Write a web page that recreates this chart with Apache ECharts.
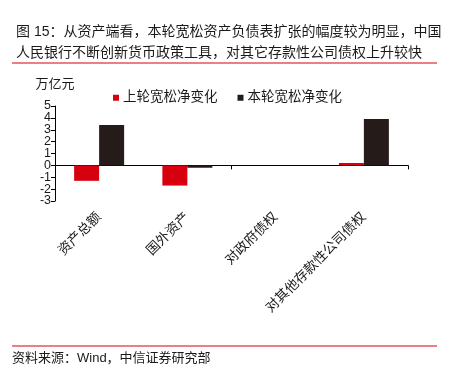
<!DOCTYPE html>
<html><head><meta charset="utf-8">
<script src="https://cdn.jsdelivr.net/npm/echarts@6/dist/echarts.min.js"></script>
<style>html,body{margin:0;padding:0;background:#fff}#c{width:454px;height:384px}</style>
</head><body><div id="c"></div>
<script>
const categories = ['资产总额', '国外资产', '对政府债权', '对其他存款性公司债权'];
const prevRound = [-1.3, -1.7, 0, 0.2];
const thisRound = [3.4, -0.2, 0, 3.9];
const seriesNames = ['上轮宽松净变化', '本轮宽松净变化'];
const yTicks = [-3, 5, 1];
const titleText = '图 15：从资产端看，本轮宽松资产负债表扩张的幅度较为明显，中国\n人民银行不断创新货币政策工具，对其它存款性公司债权上升较快';
const sourceText = '资料来源：Wind，中信证券研究部';
const unitText = '万亿元';

const FF = '"Liberation Sans", "Noto Sans CJK SC", sans-serif';
const chart = echarts.init(document.getElementById('c'), null, {renderer: 'canvas'});
function yAxisDef(parity, main) {
  return {
    type: 'value', min: yTicks[0], max: yTicks[1], interval: yTicks[2], position: 'left',
    name: main ? unitText : '', nameLocation: 'end', nameGap: 15,
    nameTextStyle: {fontSize: 13, color: '#1a1a1a', fontFamily: FF, align: 'center'},
    axisLine: {show: main, onZero: false, lineStyle: {color: '#000', width: 1}},
    axisTick: {show: main, inside: false, length: 4, lineStyle: {color: '#000'}},
    axisLabel: {
      fontSize: 12.5, color: '#1a1a1a', margin: 4, fontFamily: FF,
      showMinLabel: true, showMaxLabel: true, hideOverlap: false,
      formatter: function (v) { return (Math.abs(v) % 2 === parity) ? String(v) : ''; }
    },
    splitLine: {show: false}
  };
}
chart.setOption({
  animation: false,
  backgroundColor: '#fff',
  textStyle: {fontFamily: FF},
  title: {
    text: titleText, left: 11, top: 16,
    textStyle: {fontSize: 14, fontWeight: 'normal', color: '#1a1a1a', lineHeight: 21.5, fontFamily: FF}
  },
  graphic: [
    {type: 'line', shape: {x1: 12, y1: 63, x2: 437, y2: 63}, style: {stroke: '#d7000f', lineWidth: 1.2}},
    {type: 'line', shape: {x1: 12, y1: 346, x2: 437, y2: 346}, style: {stroke: '#d7000f', lineWidth: 1.2}},
    {type: 'text', left: 12, top: 352, style: {text: sourceText, font: '13px ' + FF, fill: '#1a1a1a'}}
  ],
  legend: {
    left: 108, top: 86, itemWidth: 6, itemHeight: 6, itemGap: 20,
    icon: 'rect',
    textStyle: {fontSize: 13.5, color: '#1a1a1a', fontFamily: FF, padding: [0, 0, 0, -1]},
    data: seriesNames
  },
  grid: {left: 55, right: 46, top: 106, bottom: 183, containLabel: false},
  xAxis: [
    {
      type: 'category', data: categories,
      axisLine: {onZero: true, onZeroAxisIndex: 0, lineStyle: {color: '#000', width: 1}},
      axisTick: {show: true, inside: false, length: 4, lineStyle: {color: '#000'}},
      axisLabel: {show: false}
    },
    {
      type: 'category', data: categories, position: 'bottom',
      axisLine: {show: false, onZero: false}, axisTick: {show: false},
      axisLabel: {rotate: 45, fontSize: 13.5, color: '#1a1a1a', margin: 14, interval: 0, fontFamily: FF}
    }
  ],
  yAxis: [yAxisDef(1, true), yAxisDef(0, false)],
  series: [
    {name: seriesNames[0], type: 'bar', data: prevRound, barWidth: 25, barGap: '0%', itemStyle: {color: '#d7000f'}},
    {name: seriesNames[1], type: 'bar', data: thisRound, barWidth: 25, barGap: '0%', itemStyle: {color: '#251c1a'}}
  ]
});
</script></body></html>
